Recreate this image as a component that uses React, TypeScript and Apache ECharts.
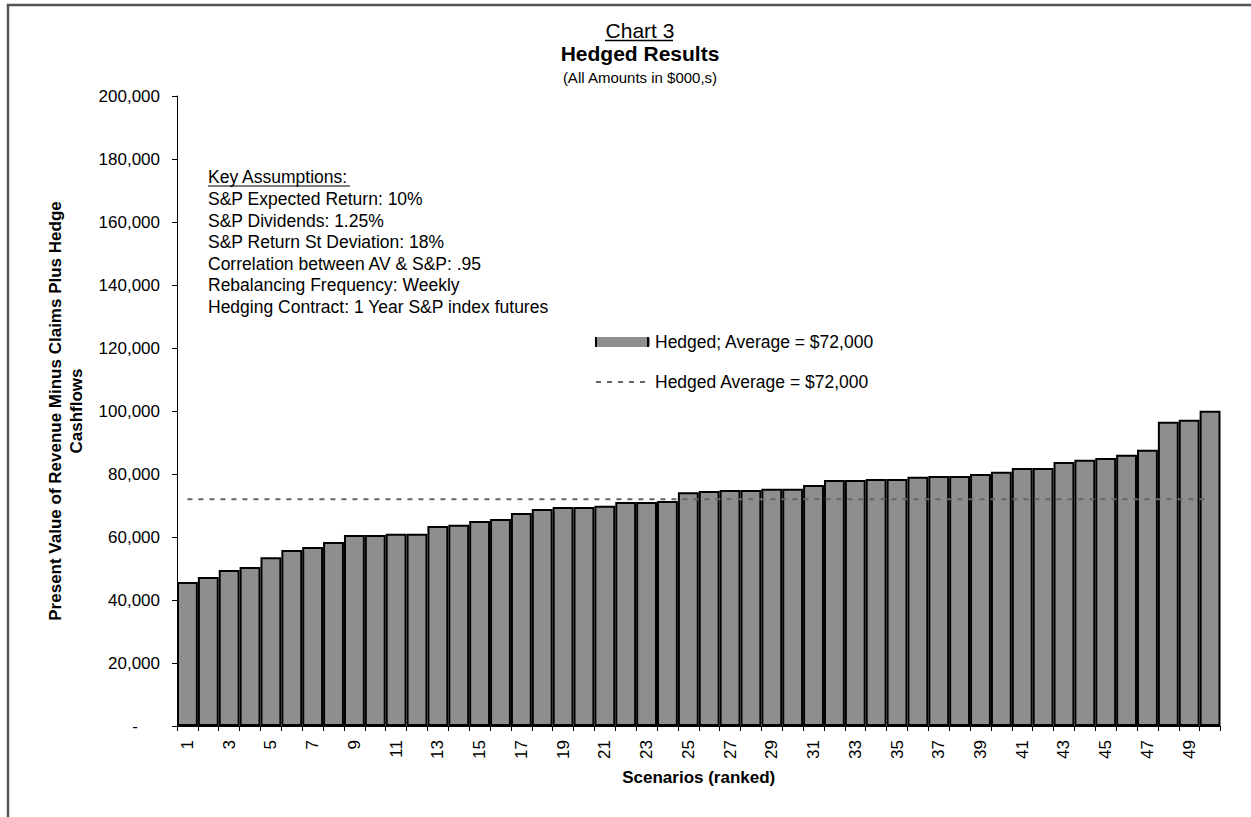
import React, { useEffect, useRef } from "react";
import * as echarts from "echarts";

const scenarios = [
  "1", "2", "3", "4", "5", "6", "7", "8", "9", "10",
  "11", "12", "13", "14", "15", "16", "17", "18", "19", "20",
  "21", "22", "23", "24", "25", "26", "27", "28", "29", "30",
  "31", "32", "33", "34", "35", "36", "37", "38", "39", "40",
  "41", "42", "43", "44", "45", "46", "47", "48", "49", "50",
];

const hedgedValues = [
  45700, 47300, 49500, 50500, 53600, 55900, 56800, 58400, 60600, 60600,
  61000, 61000, 63500, 63900, 65100, 65700, 67600, 68900, 69500, 69500,
  69900, 71100, 71100, 71400, 74200, 74600, 74900, 74900, 75300, 75300,
  76500, 78100, 78100, 78400, 78400, 79100, 79400, 79400, 80000, 80700,
  81900, 81900, 83800, 84500, 85100, 86100, 87700, 96600, 97200, 100100,
];

const hedgedAverage = 72000;

const yMin = 0;
const yMax = 200000;
const yStep = 20000;

const titleLines = ["Chart 3", "Hedged Results", "(All Amounts in $000,s)"];
const assumptionHeader = "Key Assumptions:";
const assumptionLines = [
  "S&P Expected Return: 10%",
  "S&P Dividends: 1.25%",
  "S&P Return St Deviation: 18%",
  "Correlation between AV & S&P: .95",
  "Rebalancing Frequency: Weekly",
  "Hedging Contract: 1 Year S&P index futures",
];

const barName = "Hedged; Average = $72,000";
const lineName = "Hedged Average = $72,000";
const xAxisTitle = "Scenarios (ranked)";
const yAxisTitle = "Present Value of Revenue Minus Claims Plus Hedge\nCashflows";

const FONT = "Liberation Sans, Arial, sans-serif";

export default function App() {
  const ref = useRef<HTMLDivElement>(null);

  useEffect(() => {
    if (!ref.current) return;
    const chart = echarts.init(ref.current, undefined, { renderer: "svg" });

    const lineData = scenarios.map(() => hedgedAverage);

    const graphics: any[] = [
      {
        type: "rect",
        shape: { x: 8, y: 5, width: 1300, height: 900 },
        style: { fill: "none", stroke: "#555", lineWidth: 2.5 },
        silent: true,
      },
      {
        type: "text",
        x: 640,
        y: 30,
        style: { text: titleLines[0], fontFamily: FONT, fontSize: 21, fill: "#000", align: "center", verticalAlign: "middle" },
      },
      {
        type: "line",
        shape: { x1: 605, y1: 40.5, x2: 673, y2: 40.5 },
        style: { stroke: "#000", lineWidth: 1.5 },
      },
      {
        type: "text",
        x: 640,
        y: 53,
        style: { text: titleLines[1], fontFamily: FONT, fontSize: 21, fontWeight: "bold", fill: "#000", align: "center", verticalAlign: "middle" },
      },
      {
        type: "text",
        x: 640,
        y: 77,
        style: { text: titleLines[2], fontFamily: FONT, fontSize: 15, fill: "#000", align: "center", verticalAlign: "middle" },
      },
      {
        type: "text",
        x: 208,
        y: 177,
        style: { text: assumptionHeader, fontFamily: FONT, fontSize: 17.5, fill: "#000", align: "left", verticalAlign: "middle" },
      },
      {
        type: "line",
        shape: { x1: 208, y1: 186, x2: 350, y2: 186 },
        style: { stroke: "#000", lineWidth: 1.2 },
      },
      {
        type: "rect",
        shape: { x: 595, y: 337, width: 2, height: 10 },
        style: { fill: "#000" },
        z: 100,
        silent: true,
      },
      {
        type: "rect",
        shape: { x: 647, y: 337, width: 2, height: 10 },
        style: { fill: "#000" },
        z: 100,
        silent: true,
      },
    ];
    assumptionLines.forEach((t, i) => {
      graphics.push({
        type: "text",
        x: 208,
        y: 199 + i * 21.6,
        style: { text: t, fontFamily: FONT, fontSize: 17.5, fill: "#000", align: "left", verticalAlign: "middle" },
      });
    });

    chart.setOption({
      animation: false,
      backgroundColor: "#fff",
      textStyle: { fontFamily: FONT },
      grid: { left: 177, right: 30.5, top: 96, bottom: 91, containLabel: false },
      legend: {
        orient: "vertical",
        left: 590,
        top: 327,
        itemWidth: 54,
        itemHeight: 10,
        itemGap: 20,
        itemTextGap: 4,
        textStyle: { fontFamily: FONT, fontSize: 17.5, color: "#000", lineHeight: 20 },
        data: [
          { name: barName, itemStyle: { borderWidth: 0 } },
          { name: lineName, itemStyle: { opacity: 0 } },
        ],
      },
      xAxis: {
        type: "category",
        data: scenarios,
        boundaryGap: true,
        name: xAxisTitle,
        nameLocation: "middle",
        nameGap: 43,
        nameTextStyle: { fontFamily: FONT, fontSize: 17, fontWeight: "bold", color: "#000" },
        axisLine: { lineStyle: { color: "#000", width: 1 } },
        axisTick: { show: true, interval: 0, length: 5, lineStyle: { color: "#000" } },
        axisLabel: {
          interval: 1,
          rotate: 90,
          margin: 14,
          fontFamily: FONT,
          fontSize: 17,
          color: "#000",
        },
        splitLine: { show: false },
      },
      yAxis: {
        type: "value",
        min: yMin,
        max: yMax,
        interval: yStep,
        name: yAxisTitle,
        nameLocation: "middle",
        nameRotate: 90,
        nameGap: 88,
        nameTextStyle: { fontFamily: FONT, fontSize: 17, fontWeight: "bold", color: "#000", lineHeight: 21.7, align: "center" },
        axisLine: { show: true, lineStyle: { color: "#000", width: 1 } },
        axisTick: { show: true, length: 5, lineStyle: { color: "#000" } },
        axisLabel: {
          margin: 17,
          fontFamily: FONT,
          fontSize: 17,
          color: "#000",
          formatter: (v: number) => (v === 0 ? "{d|-}" : v.toLocaleString("en-US")),
          rich: { d: { fontFamily: FONT, fontSize: 17, color: "#000", padding: [0, 22, 0, 0] } },
        },
        splitLine: { show: false },
      },
      series: [
        {
          name: barName,
          type: "bar",
          data: hedgedValues,
          barCategoryGap: "0%",
          itemStyle: { color: "#8e8e8e", borderColor: "#000", borderWidth: 2 },
        },
        {
          name: lineName,
          type: "line",
          data: lineData,
          symbol: "none",
          showSymbol: false,
          lineStyle: { color: "#666", width: 2, type: [5, 6] },
          itemStyle: { color: "#666" },
          z: 5,
        },
      ],
      graphic: graphics,
    });

    return () => chart.dispose();
  }, []);

  return (
    <div
      ref={ref}
      style={{ position: "absolute", left: 0, top: 0, width: 1251, height: 817 }}
    />
  );
}
